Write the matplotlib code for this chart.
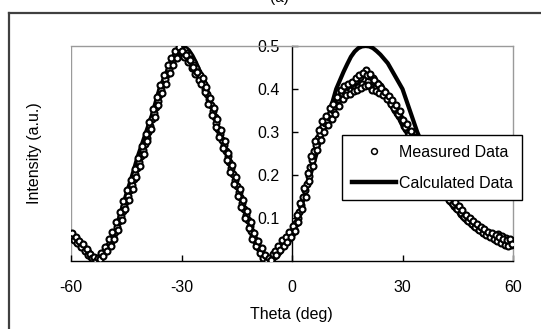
import matplotlib
matplotlib.use("Agg")
import matplotlib.pyplot as plt
from matplotlib.lines import Line2D
import numpy as np

# ---- data ----
calc_theta = list(range(-60, 61))
calc_int = [0.058, 0.05, 0.04, 0.03, 0.02, 0.011, 0.004, 0.0, 0.005, 0.015,
            0.03, 0.048, 0.07, 0.098, 0.127, 0.155, 0.182, 0.21, 0.24, 0.265,
            0.29, 0.315, 0.34, 0.37, 0.40, 0.42, 0.44, 0.46, 0.478, 0.492,
            0.50, 0.497, 0.49, 0.477, 0.46, 0.44, 0.42, 0.396, 0.37, 0.34,
            0.31, 0.285, 0.26, 0.235, 0.21, 0.182, 0.155, 0.127, 0.10, 0.072,
            0.045, 0.025, 0.012, 0.003, 0.0, 0.003, 0.01, 0.02, 0.035, 0.047,
            0.06, 0.083, 0.11, 0.14, 0.17, 0.20, 0.23, 0.26, 0.29, 0.315,
            0.34, 0.37, 0.40, 0.42, 0.44, 0.458, 0.475, 0.487, 0.495, 0.499,
            0.50, 0.499, 0.495, 0.488, 0.48, 0.47, 0.46, 0.445, 0.43, 0.415,
            0.40, 0.375, 0.35, 0.325, 0.30, 0.28, 0.26, 0.24, 0.22, 0.205,
            0.19, 0.175, 0.16, 0.15, 0.14, 0.13, 0.12, 0.11, 0.10, 0.092,
            0.085, 0.077, 0.07, 0.065, 0.06, 0.055, 0.05, 0.047, 0.045, 0.042,
            0.04]

# measured data, first pass (every 0.5 deg from -60)
meas_theta_a = [-60 + 0.5 * i for i in range(241)]
meas_int_a = [0.060, 0.055, 0.052, 0.048, 0.045, 0.040, 0.036, 0.030, 0.026, 0.020,
              0.016, 0.010, 0.008, 0.004, 0.002, 0.006, 0.010, 0.015, 0.020, 0.028,
              0.035, 0.042, 0.050, 0.058, 0.068, 0.080, 0.092, 0.104, 0.116, 0.128,
              0.140, 0.152, 0.165, 0.176, 0.190, 0.202, 0.216, 0.230, 0.245, 0.258,
              0.272, 0.286, 0.300, 0.314, 0.330, 0.344, 0.358, 0.372, 0.386, 0.398,
              0.412, 0.424, 0.436, 0.446, 0.456, 0.466, 0.475, 0.482, 0.488, 0.494,
              0.496, 0.494, 0.490, 0.484, 0.478, 0.470, 0.462, 0.455, 0.448, 0.440,
              0.432, 0.422, 0.412, 0.400, 0.388, 0.376, 0.362, 0.350, 0.336, 0.322,
              0.308, 0.295, 0.282, 0.270, 0.256, 0.244, 0.230, 0.216, 0.202, 0.188,
              0.174, 0.160, 0.148, 0.134, 0.120, 0.108, 0.095, 0.082, 0.070, 0.058,
              0.048, 0.038, 0.030, 0.022, 0.014, 0.008, 0.004, 0.002, 0.004, 0.008,
              0.012, 0.018, 0.024, 0.030, 0.036, 0.040, 0.044, 0.048, 0.052, 0.060,
              0.066, 0.075, 0.088, 0.100, 0.115, 0.130, 0.148, 0.165, 0.180, 0.198,
              0.218, 0.236, 0.255, 0.270, 0.285, 0.296, 0.306, 0.314, 0.320, 0.328,
              0.336, 0.344, 0.352, 0.360, 0.368, 0.376, 0.384, 0.390, 0.396, 0.400,
              0.392, 0.404, 0.398, 0.410, 0.402, 0.420, 0.405, 0.428, 0.412, 0.436,
              0.445, 0.418, 0.430, 0.405, 0.425, 0.402, 0.415, 0.398, 0.408, 0.392,
              0.395, 0.385, 0.380, 0.372, 0.368, 0.360, 0.352, 0.345, 0.338, 0.330,
              0.322, 0.315, 0.308, 0.300, 0.292, 0.285, 0.278, 0.270, 0.262, 0.255,
              0.248, 0.240, 0.232, 0.224, 0.216, 0.208, 0.200, 0.193, 0.186, 0.180,
              0.174, 0.168, 0.162, 0.156, 0.150, 0.145, 0.140, 0.134, 0.128, 0.124,
              0.120, 0.115, 0.110, 0.105, 0.100, 0.096, 0.092, 0.088, 0.085, 0.082,
              0.078, 0.075, 0.072, 0.069, 0.066, 0.064, 0.062, 0.060, 0.057, 0.055,
              0.053, 0.050, 0.062, 0.048, 0.058, 0.044, 0.054, 0.040, 0.050, 0.038,
              0.046]

# measured data, second pass (every 0.5 deg from -59.75)
meas_theta_b = [-59.75 + 0.5 * i for i in range(240)]
meas_int_b = [0.064, 0.049, 0.056, 0.041, 0.047, 0.033, 0.039, 0.024, 0.028, 0.014,
              0.016, 0.006, 0.009, 0.000, 0.007, 0.004, 0.018, 0.012, 0.032, 0.024,
              0.052, 0.036, 0.068, 0.052, 0.090, 0.072, 0.114, 0.096, 0.140, 0.120,
              0.164, 0.142, 0.188, 0.168, 0.214, 0.195, 0.240, 0.222, 0.268, 0.250,
              0.296, 0.278, 0.324, 0.306, 0.354, 0.336, 0.382, 0.362, 0.410, 0.390,
              0.432, 0.412, 0.455, 0.438, 0.472, 0.455, 0.488, 0.472, 0.498, 0.485,
              0.488, 0.475, 0.480, 0.462, 0.468, 0.448, 0.452, 0.436, 0.440, 0.420,
              0.412, 0.425, 0.392, 0.404, 0.366, 0.380, 0.340, 0.356, 0.312, 0.330,
              0.288, 0.304, 0.262, 0.278, 0.236, 0.252, 0.208, 0.224, 0.180, 0.196,
              0.152, 0.168, 0.126, 0.142, 0.100, 0.116, 0.076, 0.090, 0.052, 0.066,
              0.034, 0.046, 0.018, 0.030, 0.006, 0.014, 0.000, 0.008, 0.002, 0.016,
              0.024, 0.014, 0.036, 0.026, 0.048, 0.034, 0.056, 0.044, 0.068, 0.056,
              0.082, 0.070, 0.108, 0.090, 0.136, 0.120, 0.170, 0.150, 0.204, 0.186,
              0.244, 0.222, 0.280, 0.258, 0.305, 0.282, 0.325, 0.300, 0.338, 0.316,
              0.356, 0.330, 0.366, 0.342, 0.382, 0.360, 0.398, 0.376, 0.408, 0.386,
              0.412, 0.388, 0.416, 0.395, 0.425, 0.398, 0.432, 0.402, 0.438, 0.408,
              0.432, 0.410, 0.436, 0.398, 0.420, 0.395, 0.412, 0.390, 0.402, 0.385,
              0.392, 0.376, 0.384, 0.366, 0.374, 0.356, 0.362, 0.342, 0.348, 0.326,
              0.328, 0.312, 0.318, 0.296, 0.302, 0.282, 0.288, 0.266, 0.272, 0.252,
              0.258, 0.236, 0.244, 0.222, 0.228, 0.206, 0.214, 0.192, 0.200, 0.178,
              0.184, 0.166, 0.172, 0.154, 0.160, 0.142, 0.150, 0.132, 0.138, 0.122,
              0.128, 0.112, 0.118, 0.102, 0.108, 0.094, 0.100, 0.086, 0.092, 0.080,
              0.086, 0.072, 0.080, 0.066, 0.074, 0.060, 0.068, 0.056, 0.064, 0.052,
              0.060, 0.046, 0.056, 0.042, 0.052, 0.038, 0.048, 0.034, 0.052, 0.040]

xticks = [-60, -30, 0, 30, 60]
yticks = [0.1, 0.2, 0.3, 0.4, 0.5]

plt.rcParams['font.family'] = ['Liberation Sans', 'DejaVu Sans']
FS = 11.5

W, H = 541, 329
fig = plt.figure(figsize=(W / 100, H / 100), dpi=100)
ax = fig.add_axes([71 / W, 1 - 261 / H, (513 - 71) / W, (261 - 46) / H])

meas_theta = meas_theta_a + meas_theta_b
meas_int = meas_int_a + meas_int_b

MS, MEW = 4.3, 1.5
ax.plot(calc_theta, calc_int, color='black', lw=3.0, zorder=3,
        solid_joinstyle='round', solid_capstyle='round')
ax.plot(meas_theta, meas_int, linestyle='none', marker='o', markersize=MS,
        markerfacecolor='white', markeredgecolor='black', markeredgewidth=MEW,
        zorder=4)

ax.set_xlim(-60, 60)
ax.set_ylim(0, 0.5)

# frame
for s in ['top', 'right']:
    ax.spines[s].set_color('#9a9a9a')
    ax.spines[s].set_linewidth(1.0)
ax.spines['bottom'].set_color('black')
ax.spines['bottom'].set_linewidth(1.0)
ax.spines['left'].set_position(('data', 0))
ax.spines['left'].set_color('black')
ax.spines['left'].set_linewidth(1.0)
ax.axvline(-60, color='#9a9a9a', lw=1.0, zorder=0)

ax.set_xticks(xticks)
ax.set_xticklabels([str(t) for t in xticks])
ax.set_yticks(yticks)
ax.set_yticklabels([f"{t:.1f}" for t in yticks])
ax.tick_params(axis='x', direction='in', length=4, width=1, pad=14, labelsize=FS)
ax.tick_params(axis='y', direction='in', length=4, width=1, pad=9, labelsize=FS)

fig.text(291 / W, 1 - 314 / H, 'Theta (deg)', ha='center', va='center', fontsize=FS)
fig.text(35 / W, 1 - 153 / H, 'Intensity (a.u.)', ha='center', va='center',
         rotation=90, fontsize=FS)

# legend
handles = [Line2D([], [], linestyle='none', marker='o', markersize=4.2,
                  markerfacecolor='white', markeredgecolor='black', markeredgewidth=1.1),
           Line2D([], [], color='black', lw=3.2)]
leg = fig.legend(handles, ['Measured Data', 'Calculated Data'],
                 loc='upper left', bbox_to_anchor=(342 / W, 1 - 135 / H),
                 bbox_transform=fig.transFigure, fontsize=FS, frameon=True,
                 fancybox=False, edgecolor='black', borderpad=0.6,
                 handlelength=2.8, handletextpad=0.15, labelspacing=1.0,
                 borderaxespad=0, framealpha=1)
leg.get_frame().set_linewidth(1.0)
leg.set_zorder(10)

# outer chart frame
fig.add_artist(Line2D([9 / W, 9 / W], [0, 1 - 13 / H], transform=fig.transFigure,
                      color='#404040', lw=1.6))
fig.add_artist(Line2D([9 / W, 1], [1 - 13 / H, 1 - 13 / H], transform=fig.transFigure,
                      color='#404040', lw=1.6))

# title (mostly cut off at the top, as in the reference)
fig.text(0.517, 1 - 2 / H, '(a)', ha='center', va='baseline', fontsize=11)

fig.savefig('out.png', dpi=100)
